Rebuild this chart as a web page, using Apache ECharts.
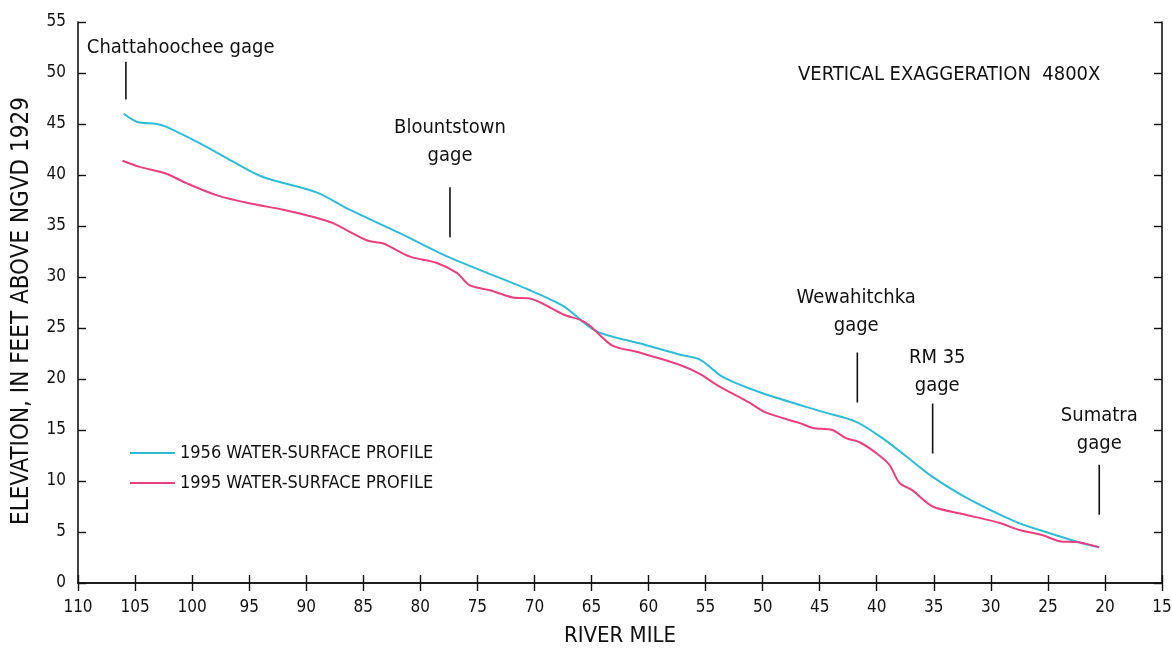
<!DOCTYPE html>
<html><head><meta charset="utf-8">
<script src="https://cdn.jsdelivr.net/npm/echarts@6/dist/echarts.min.js"></script>
<style>html,body{margin:0;padding:0;background:#fff}#c{width:1172px;height:649px}</style>
</head><body><div id="c"></div>
<script>
// River mile / elevation pairs
const miles1956 = [106.0,104.8,103.1,102.2,99.3,96.4,93.8,89.1,86.2,81.8,77.4,70.4,67.4,64.6,60.8,57.3,55.5,53.5,50.0,44.8,41.8,39.5,37.4,35.1,32.2,27.8,24.9,22.3,20.5];
const elev1956  = [46.0,45.2,45.0,44.7,43.1,41.3,39.8,38.3,36.6,34.3,31.9,28.7,27.1,24.7,23.5,22.4,21.9,20.2,18.6,16.8,15.8,14.2,12.4,10.4,8.4,6.0,4.9,4.0,3.5];
const miles1995 = [106.1,104.6,102.2,100.5,97.8,94.9,92.0,89.1,87.7,84.7,83.3,82.7,80.9,78.6,76.8,75.7,73.9,71.9,70.4,67.4,66.0,65.2,63.2,60.8,57.3,55.5,54.0,51.2,49.7,46.8,45.6,43.9,42.7,41.5,40.0,38.9,38.0,36.9,35.1,32.2,29.3,27.5,25.5,24.0,22.3,20.5];
const elev1995  = [41.4,40.8,40.1,39.2,38.0,37.2,36.6,35.8,35.3,33.6,33.3,33.0,32.0,31.4,30.4,29.2,28.7,28.0,27.9,26.3,25.8,25.3,23.3,22.6,21.4,20.5,19.4,17.7,16.7,15.7,15.2,15.0,14.2,13.8,12.7,11.6,9.8,9.1,7.5,6.7,5.9,5.2,4.7,4.1,4.0,3.5];
const seriesNames = ['1956 WATER-SURFACE PROFILE','1995 WATER-SURFACE PROFILE'];
// gage annotations
const gageNames  = ['Chattahoochee gage','Blountstown\ngage','Wewahitchka\ngage','RM 35\ngage','Sumatra\ngage'];
const gageMile   = [105.8,77.4,41.7,35.1,20.5];
const gageTop    = [51.1,38.8,22.6,17.6,11.6];
const gageBottom = [47.4,33.9,17.7,12.7,6.7];
const labelMile  = [101.0,77.4,41.8,34.7,20.5];
const labelElev  = [52.5,43.3,26.6,20.7,15.0];
const xTicks = {min:15,max:110,interval:5};
const yTicks = {min:0,max:55,interval:5};

const FONT = '"Liberation Sans Narrow","DejaVu Sans Condensed","Roboto Condensed",sans-serif';
const TXT = '#111';
const chart = echarts.init(document.getElementById('c'));
const pair = (xs,ys)=>xs.map((x,i)=>[x,ys[i]]);
const gageSeries = gageMile.map((m,i)=>({
  type:'line', data:[[m,gageTop[i]],[m,gageBottom[i]]], symbol:'none', silent:true,
  lineStyle:{color:'#111',width:1.6}, z:3
}));
const axisCommon = {
  axisLine:{show:true,lineStyle:{color:'#111',width:1.6}},
  axisTick:{show:true,inside:true,length:8,lineStyle:{color:'#111',width:1.4}},
  splitLine:{show:false}
};
chart.setOption({
  animation:false,
  grid:{left:78,right:10,top:22,bottom:66,containLabel:false,outerBoundsMode:'none'},
  legend:{
    data:seriesNames, orient:'vertical', left:125, top:439, itemWidth:45, itemHeight:2, icon:'rect',
    itemGap:12, textStyle:{fontFamily:FONT,fontSize:18,color:TXT}
  },
  xAxis:[
    Object.assign({type:'value',position:'bottom',inverse:true,min:xTicks.min,max:xTicks.max,interval:xTicks.interval,
      name:'RIVER MILE',nameLocation:'middle',nameGap:42,
      nameTextStyle:{fontFamily:FONT,fontSize:22,color:TXT},
      axisLabel:{margin:16,fontFamily:FONT,fontSize:17,color:TXT}},axisCommon),
    Object.assign({type:'value',position:'top',inverse:true,min:xTicks.min,max:xTicks.max,interval:xTicks.interval,
      axisLabel:{show:false}},axisCommon)
  ],
  yAxis:[
    Object.assign({type:'value',position:'left',min:yTicks.min,max:yTicks.max,interval:yTicks.interval,
      axisLabel:{margin:12,fontFamily:FONT,fontSize:17,color:TXT}},axisCommon),
    Object.assign({type:'value',position:'right',min:yTicks.min,max:yTicks.max,interval:yTicks.interval,
      axisLabel:{show:false}},axisCommon)
  ],
  graphic:[
    {type:'text',x:22,y:311,rotation:Math.PI/2,
      style:{text:'ELEVATION, IN FEET ABOVE NGVD 1929',font:'24px '+FONT,fill:TXT,align:'center',verticalAlign:'middle'}},
    {type:'text',left:798,top:65,
      style:{text:'VERTICAL EXAGGERATION  4800X',font:'20px '+FONT,fill:TXT}}
  ],
  series:[
    {name:seriesNames[0],type:'line',data:pair(miles1956,elev1956),symbol:'none',smooth:0.3,
      lineStyle:{color:'#2cbcd6',width:2},itemStyle:{color:'#2cbcd6'},z:4},
    {name:seriesNames[1],type:'line',data:pair(miles1995,elev1995),symbol:'none',smooth:0.3,
      lineStyle:{color:'#ea3f7f',width:2},itemStyle:{color:'#ea3f7f'},z:4},
    ...gageSeries,
    {type:'scatter',symbolSize:0,silent:true,itemStyle:{opacity:1,color:'transparent'},
      data:labelMile.map((m,i)=>[m,labelElev[i],gageNames[i]]),
      label:{show:true,position:'inside',formatter:p=>p.data[2],fontFamily:FONT,fontSize:20,
        color:TXT,opacity:1,lineHeight:28,align:'center'}}
  ]
});
</script></body></html>
